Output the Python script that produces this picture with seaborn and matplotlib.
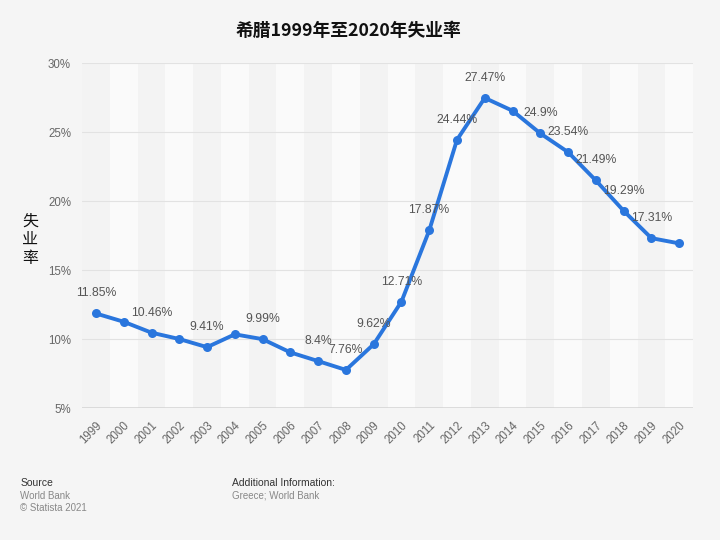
"""
Greece unemployment rate 1999-2020 (Statista style line chart).
"""

import pandas as pd
import matplotlib
matplotlib.use("Agg")
import matplotlib.pyplot as plt
import seaborn as sns

# Data
years = [str(y) for y in range(1999, 2021)]
rates = [11.85, 11.25, 10.46, 10.0, 9.41, 10.34, 9.99, 9.03, 8.4, 7.76, 9.62,
         12.71, 17.87, 24.44, 27.47, 26.54, 24.9, 23.54, 21.49, 19.29, 17.31, 16.93]
labelled = ['1999', '2001', '2003', '2005', '2007', '2008', '2009', '2010', '2011',
            '2012', '2013', '2015', '2016', '2017', '2018', '2019']
y_ticks = [5, 10, 15, 20, 25, 30]

sns.set_theme(style='white')
plt.rcParams['font.family'] = ['Liberation Sans', 'Noto Sans CJK SC', 'DejaVu Sans']

BG = '#f5f5f5'
LINE = '#2a76dd'

df = pd.DataFrame({'year': years, 'rate': rates})

fig = plt.figure(figsize=(7.2, 5.4), dpi=100, facecolor=BG)
ax = fig.add_axes([0.114, 0.2444, 0.8486, 0.6389])
ax.set_facecolor(BG)

# Alternating category bands
for i in range(len(years)):
    ax.axvspan(i - 0.5, i + 0.5, color='#f3f3f3' if i % 2 == 0 else '#fafafa',
               lw=0, zorder=0)

for t in y_ticks[1:]:
    ax.axhline(t, color='#e2e2e2', lw=0.8, zorder=1)
ax.axhline(5, color='#d6d6d6', lw=1.2, zorder=1)

sns.lineplot(data=df, x='year', y='rate', ax=ax, color=LINE, lw=2.8,
             marker='o', markersize=6.5, markeredgewidth=0, zorder=3, sort=False)

# Value labels
for i, (yr, v) in enumerate(zip(years, rates)):
    if yr in labelled:
        txt = f'{v:g}%'
        ax.annotate(txt, (i, v), xytext=(0, 20), textcoords='offset pixels',
                    ha='center', va='center', fontsize=8.8, color='#555555', zorder=4)

ax.set_xlim(-0.5, len(years) - 0.5)
ax.set_ylim(5, 30)
ax.set_yticks(y_ticks)
ax.set_yticklabels([f'{t}%' for t in y_ticks], fontsize=8.3, color='#666666')
ax.set_xticks(range(len(years)))
ax.set_xticklabels(years, rotation=45, ha='right', rotation_mode='anchor',
                   fontsize=8.3, color='#666666')
ax.tick_params(axis='both', length=0, pad=8)
ax.set_xlabel('')
ax.set_ylabel('')
for s in ax.spines.values():
    s.set_visible(False)

# Titles and footer
fig.text(0.484, 0.943, '希腊1999年至2020年失业率', ha='center', va='center',
         fontsize=12.8, fontweight='bold', color='#111111',
         family=['Noto Sans CJK SC', 'DejaVu Sans'])
fig.text(0.042, 0.556, '失\n业\n率', ha='center', va='center', fontsize=11.5,
         color='#111111', linespacing=1.1, family=['Noto Sans CJK SC', 'DejaVu Sans'])

fig.text(0.028, 0.106, 'Source', fontsize=7.5, color='#333333', va='center')
fig.text(0.028, 0.082, 'World Bank', fontsize=7, color='#888888', va='center')
fig.text(0.028, 0.060, '© Statista 2021', fontsize=7, color='#888888', va='center')
fig.text(0.322, 0.106, 'Additional Information:', fontsize=7.5, color='#333333', va='center')
fig.text(0.322, 0.082, 'Greece; World Bank', fontsize=7, color='#888888', va='center')

plt.savefig('out.png', dpi=100, facecolor=BG)
plt.close()
